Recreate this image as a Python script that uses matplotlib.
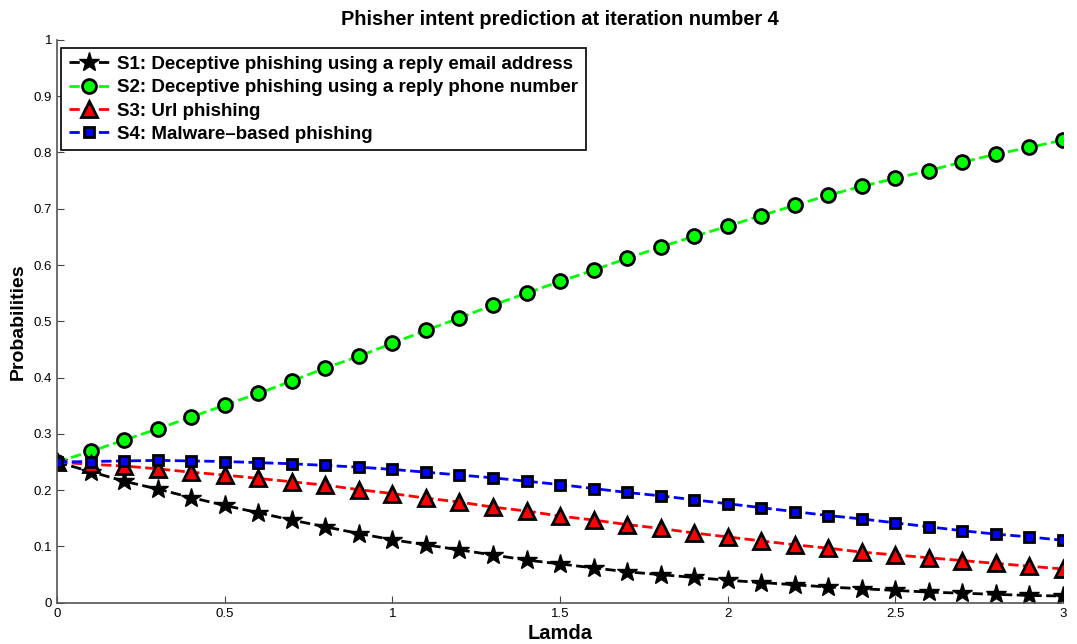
import matplotlib
matplotlib.use("Agg")
import matplotlib.pyplot as plt
import numpy as np

plt.rcParams["font.family"] = ["Liberation Sans", "DejaVu Sans"]

lamda = np.round(np.arange(0, 3.01, 0.1), 1)

s1 = [0.250, 0.233, 0.216, 0.202, 0.187, 0.173, 0.160, 0.147, 0.135, 0.123, 0.112,
      0.103, 0.094, 0.085, 0.076, 0.069, 0.062, 0.055, 0.050, 0.045, 0.040,
      0.036, 0.032, 0.028, 0.025, 0.022, 0.019, 0.017, 0.015, 0.013, 0.012]
s2 = [0.250, 0.269, 0.289, 0.309, 0.330, 0.351, 0.372, 0.394, 0.417, 0.438, 0.461,
      0.484, 0.506, 0.529, 0.550, 0.571, 0.591, 0.612, 0.632, 0.651, 0.669,
      0.688, 0.706, 0.724, 0.740, 0.754, 0.768, 0.783, 0.797, 0.809, 0.822]
s3 = [0.250, 0.246, 0.243, 0.238, 0.232, 0.227, 0.221, 0.215, 0.209, 0.201, 0.194,
      0.186, 0.179, 0.170, 0.163, 0.154, 0.147, 0.139, 0.132, 0.124, 0.117,
      0.110, 0.103, 0.097, 0.090, 0.085, 0.080, 0.075, 0.070, 0.065, 0.060]
s4 = [0.250, 0.251, 0.252, 0.253, 0.252, 0.251, 0.249, 0.247, 0.244, 0.241, 0.237,
      0.232, 0.227, 0.222, 0.216, 0.210, 0.203, 0.196, 0.190, 0.183, 0.176,
      0.169, 0.162, 0.155, 0.149, 0.142, 0.135, 0.128, 0.122, 0.117, 0.111]

labels = ["S1: Deceptive phishing using a reply email address",
          "S2: Deceptive phishing using a reply phone number",
          "S3: Url phishing",
          "S4: Malware\u2013based phishing"]

fig = plt.figure(figsize=(10.77, 6.44), dpi=100)
ax = fig.add_axes([0.053, 0.064, 0.934, 0.874])

ax.plot(lamda, s1, "--", color="black", lw=2, marker="*", ms=15,
        mfc="black", mec="black", label=labels[0])
ax.plot(lamda, s2, "--", color="#00ff00", lw=2, marker="o", ms=10,
        mfc="#00ff00", mec="black", mew=2, label=labels[1])
ax.plot(lamda, s3, "--", color="red", lw=2, marker="^", ms=11,
        mfc="red", mec="black", mew=2, label=labels[2])
ax.plot(lamda, s4, "--", color="blue", lw=2, marker="s", ms=7.5,
        mfc="blue", mec="black", mew=2, label=labels[3])

ax.set_xlim(0, 3)
ax.set_ylim(0, 1)
ax.set_xticks([0, 0.5, 1, 1.5, 2, 2.5, 3])
ax.set_xticklabels(["0", "0.5", "1", "1.5", "2", "2.5", "3"])
ax.set_yticks(np.round(np.arange(0, 1.01, 0.1), 1))
ax.set_yticklabels(["0", "0.1", "0.2", "0.3", "0.4", "0.5", "0.6", "0.7", "0.8", "0.9", "1"])
ax.tick_params(direction="in", labelsize=9.5, length=5, color="#444444")
for side in ["top", "right"]:
    ax.spines[side].set_visible(False)
for side in ["left", "bottom"]:
    ax.spines[side].set_color("#555555")
    ax.spines[side].set_linewidth(1.2)

ax.set_title("Phisher intent prediction at iteration number 4",
             fontsize=14.4, fontweight="bold", pad=11)
ax.set_xlabel("Lamda", fontsize=14.5, fontweight="bold", labelpad=3)
ax.set_ylabel("Probabilities", fontsize=14, fontweight="bold", labelpad=5)

leg = ax.legend(loc="upper left", bbox_to_anchor=(0.004, 0.985),
                prop={"weight": "bold", "size": 13.5}, fancybox=False,
                framealpha=1, edgecolor="black", handlelength=2.2,
                borderpad=0.4, labelspacing=0.33, handletextpad=0.4,
                borderaxespad=0)
leg.get_frame().set_linewidth(1.2)

fig.savefig("out.png", dpi=100)
